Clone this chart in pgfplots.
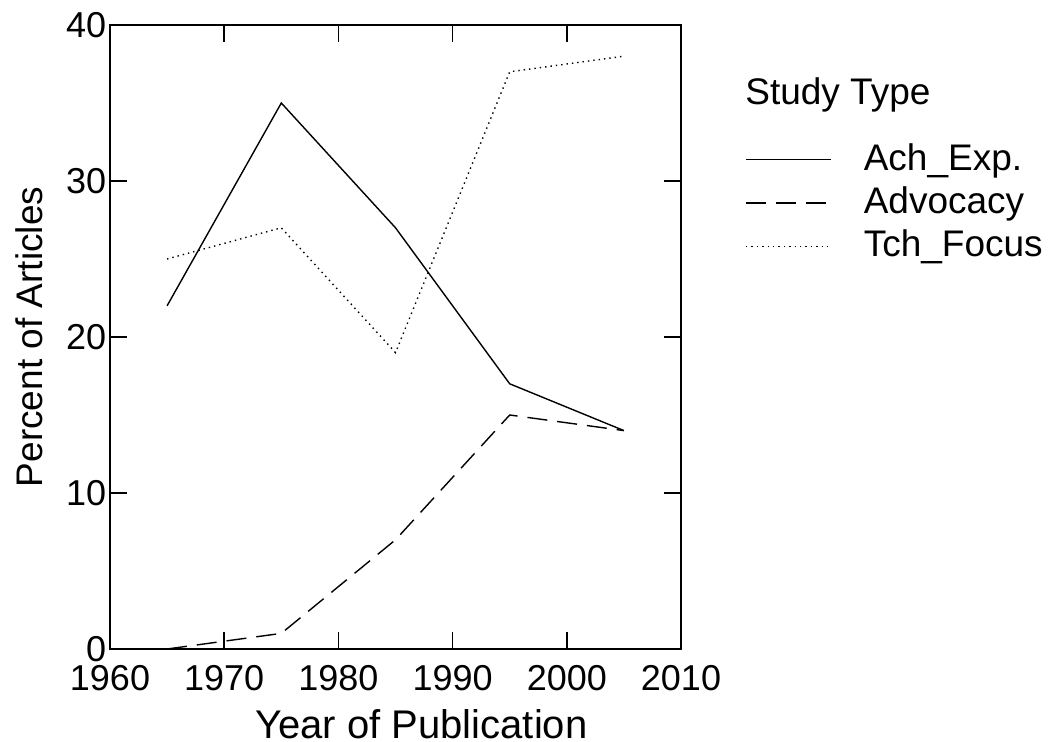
\documentclass[border=0pt]{standalone}
\usepackage{fontspec}
\setmainfont{Liberation Sans}
\usepackage{pgfplots}
\pgfplotsset{compat=1.18}
\begin{document}
\fontsize{18.5}{22}\selectfont
\begin{tikzpicture}[x=1pt,y=1pt]
\useasboundingbox (-55,-46.5) rectangle (469,324.5);
\begin{axis}[
  at={(0,0)}, anchor=origin,
  scale only axis, width=285.5pt, height=312pt,
  xmin=1960, xmax=2010, ymin=0, ymax=40,
  xtick={1960,1970,...,2010}, ytick={0,10,...,40},
  tick align=inside, major tick length=8.5pt,
  axis line style={line width=1pt}, every tick/.style={line width=0.8pt, black},
  /pgf/number format/assume math mode=true,
  /pgf/number format/1000 sep={},
  tick label style={font=\fontsize{18}{22}\selectfont},
  xlabel={Year of Publication}, ylabel={Percent of Articles},
  xlabel style={font=\fontsize{20}{23}\selectfont, yshift=3.5pt, xshift=13pt},
  ylabel style={font=\fontsize{18.5}{22}\selectfont, yshift=-1pt},
  xticklabel style={yshift=-2pt},
  yticklabel style={xshift=4.5pt},
  clip=false,
  legend style={at={(axis description cs:1.112,0.814)}, anchor=north west,
    draw=none, fill=none, inner sep=0pt, row sep=3.5pt,
    font=\fontsize{18.5}{22}\selectfont,
    nodes={anchor=west, inner sep=1pt},
    /tikz/every odd column/.append style={column sep=15pt}},
  legend cell align=left,
  legend image code/.code={\draw[#1] (0pt,0pt) -- (42.5pt,0pt);},
]
\addplot[black, line width=0.7pt] coordinates {(1965,22) (1975,35) (1985,27) (1995,17) (2005,14)};
\addlegendentry{Ach\_Exp.}
\addplot[black, line width=0.7pt, dash pattern=on 10pt off 5pt] coordinates {(1965,0) (1975,1) (1985,7) (1995,15) (2005,14)};
\addlegendentry{Advocacy}
\addplot[black, line width=0.7pt, dash pattern=on 0.7pt off 2pt] coordinates {(1965,25) (1975,27) (1985,19) (1995,37) (2005,38)};
\addlegendentry{Tch\_Focus}
\node[anchor=west, inner sep=0pt] at (axis description cs:1.112,0.888) {Study Type};
\end{axis}
\end{tikzpicture}
\end{document}
